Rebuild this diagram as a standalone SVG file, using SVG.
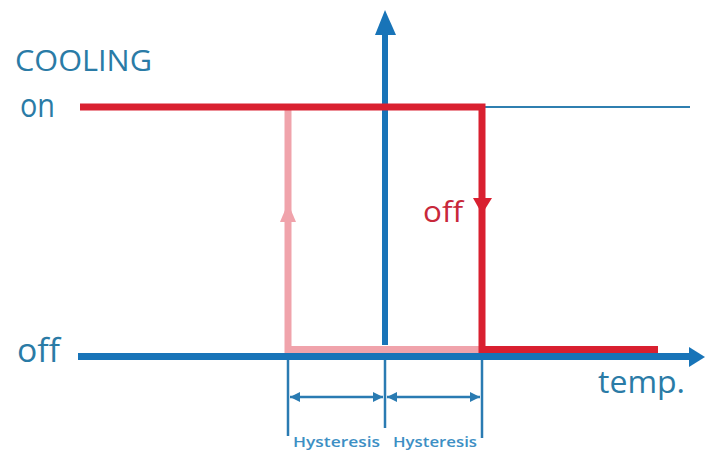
<svg xmlns="http://www.w3.org/2000/svg" width="705" height="450" viewBox="0 0 705 450">
<style>
.lbl{font-family:"Open Sans","Liberation Sans",sans-serif;fill:#2a7ba6}
.hy{font-family:"Open Sans","Liberation Sans",sans-serif;fill:#3d8fc4;font-size:15px;font-weight:600}
.ax{stroke:#1874b8;fill:none}
.dim{stroke:#2a7bb2;stroke-width:2.5;fill:none}
</style>
<defs>
<marker id="dh" viewBox="0 0 10 10" refX="10" refY="5" markerWidth="11" markerHeight="10" markerUnits="userSpaceOnUse" orient="auto-start-reverse">
<path d="M0,0 L10,5 L0,10 Z" fill="#2a7bb2"/>
</marker>
</defs>
<rect width="705" height="450" fill="#fff"/>
<g id="labels">
<text class="lbl" x="15" y="71" font-size="30" textLength="137" lengthAdjust="spacingAndGlyphs">COOLING</text>
<text class="lbl" x="20" y="117" font-size="33" textLength="35" lengthAdjust="spacingAndGlyphs">on</text>
<text class="lbl" x="17" y="362" font-size="33" textLength="43" lengthAdjust="spacingAndGlyphs">off</text>
<text class="lbl" x="598" y="393" font-size="31" textLength="87" lengthAdjust="spacingAndGlyphs">temp.</text>
<text x="423" y="222" font-size="30" font-family="Open Sans, Liberation Sans, sans-serif" fill="#c8283a" textLength="40" lengthAdjust="spacingAndGlyphs">off</text>
<text class="hy" x="293" y="447" textLength="87" lengthAdjust="spacingAndGlyphs">Hysteresis</text>
<text class="hy" x="393" y="447" textLength="84" lengthAdjust="spacingAndGlyphs">Hysteresis</text>
</g>
<g id="connectors">
<line class="ax" x1="385" y1="345" x2="385" y2="34" stroke-width="6"/>
<polygon points="385,10 375,35 396,35" fill="#1874b8"/>
<line class="ax" x1="78" y1="356.5" x2="690" y2="356.5" stroke-width="7"/>
<polygon points="705,357 689,347 689,367" fill="#1874b8"/>
<line x1="485" y1="107" x2="690" y2="107" stroke="#2f7fb0" stroke-width="2"/>
<polyline points="288,110 288,349.5 482,349.5" fill="none" stroke="#f0a3ab" stroke-width="7"/>
<polygon points="288,203 280,222 296,222" fill="#f0a3ab"/>
<polyline points="80,107 482,107 482,349.5 658,349.5" fill="none" stroke="#d92030" stroke-width="7"/>
<polygon points="482,214 473,198 492,198" fill="#d92030"/>
<line class="dim" x1="288" y1="360" x2="288" y2="436"/>
<line class="dim" x1="385" y1="360" x2="385" y2="428"/>
<line class="dim" x1="482" y1="360" x2="482" y2="438"/>
<line class="dim" x1="290" y1="397" x2="383" y2="397" marker-start="url(#dh)" marker-end="url(#dh)"/>
<line class="dim" x1="387" y1="397" x2="480" y2="397" marker-start="url(#dh)" marker-end="url(#dh)"/>
</g>
</svg>
